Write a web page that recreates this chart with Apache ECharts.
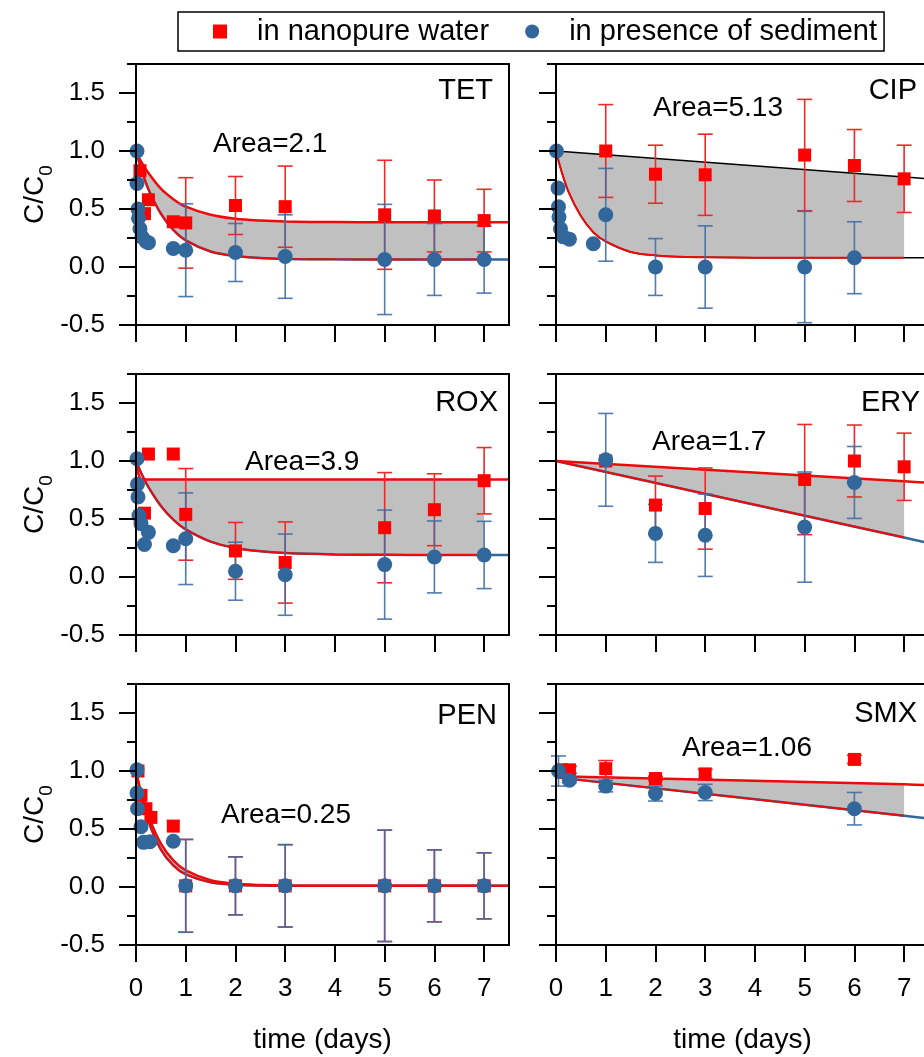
<!DOCTYPE html>
<html>
<head>
<meta charset="utf-8">
<script src="https://cdn.jsdelivr.net/npm/echarts@6/dist/echarts.min.js"></script>
<style>
  html, body { margin: 0; padding: 0; background: #fff; }
  #chart { width: 924px; height: 1057px; }
</style>
</head>
<body>
<div id="chart"></div>
<script>
// ---- shared axes / labels ----
const drugs = ['TET', 'CIP', 'ROX', 'ERY', 'PEN', 'SMX'];
const areaLabels = ['Area=2.1', 'Area=5.13', 'Area=3.9', 'Area=1.7', 'Area=0.25', 'Area=1.06'];
const tickDays = [0, 1, 2, 3, 4, 5, 6, 7];
const yTickValues = [-0.5, 0, 0.5, 1, 1.5];
const legendNames = ['in nanopure water', 'in presence of sediment'];

// time points (days) at which the fitted curves are read
const fitT = [0, 0.1, 0.25, 0.5, 0.75, 1, 1.5, 2, 2.5, 3, 4, 5, 6, 7, 7.5];
const lineT = [0, 7, 7.5];

// ---- TET ----
const tetWaterT = [0.08, 0.17, 0.25, 0.75, 1, 2, 3, 5, 6, 7];
const tetWaterC = [0.83, 0.46, 0.58, 0.39, 0.38, 0.53, 0.52, 0.45, 0.44, 0.40];
const tetWaterErr = [0, 0, 0, 0, 0.39, 0.25, 0.35, 0.47, 0.31, 0.27];
const tetSedT = [0.02, 0.02, 0.04, 0.05, 0.08, 0.12, 0.2, 0.25, 0.75, 1, 2, 3, 5, 6, 7];
const tetSedC = [1.0, 0.72, 0.50, 0.42, 0.33, 0.26, 0.22, 0.21, 0.16, 0.145, 0.125, 0.09, 0.065, 0.065, 0.065];
const tetSedErr = [0, 0, 0, 0, 0, 0, 0, 0, 0, 0.40, 0.25, 0.36, 0.475, 0.31, 0.29];
const tetFitWater = [1.0, 0.91, 0.81, 0.675, 0.585, 0.52, 0.45, 0.415, 0.40, 0.392, 0.387, 0.385, 0.385, 0.385, 0.385];
const tetFitSed = [1.0, 0.85, 0.67, 0.46, 0.32, 0.23, 0.134, 0.094, 0.077, 0.07, 0.066, 0.065, 0.065, 0.065, 0.065];

// ---- CIP ----
const cipWaterT = [1, 2, 3, 5, 6, 7];
const cipWaterC = [1.0, 0.80, 0.795, 0.965, 0.875, 0.76];
const cipWaterErr = [0.40, 0.25, 0.35, 0.48, 0.31, 0.29];
const cipSedT = [0.01, 0.04, 0.05, 0.06, 0.09, 0.15, 0.27, 0.75, 1, 2, 3, 5, 6];
const cipSedC = [1.0, 0.68, 0.52, 0.43, 0.33, 0.26, 0.24, 0.20, 0.45, 0.0, 0.0, 0.0, 0.08];
const cipSedErr = [0, 0, 0, 0, 0, 0, 0, 0, 0.40, 0.245, 0.355, 0.48, 0.31];
const cipFitWater = [1.0, 0.775, 0.76];
const cipFitSed = [1.0, 0.84, 0.65, 0.44, 0.30, 0.22, 0.13, 0.10, 0.088, 0.083, 0.08, 0.08, 0.08, 0.08, 0.08];

// ---- ROX ----
const roxWaterT = [0.17, 0.25, 0.75, 1, 2, 3, 5, 6, 7];
const roxWaterC = [0.55, 1.06, 1.06, 0.54, 0.225, 0.125, 0.425, 0.58, 0.83];
const roxWaterErr = [0, 0, 0, 0.395, 0.245, 0.35, 0.475, 0.31, 0.286];
const roxSedT = [0.02, 0.03, 0.04, 0.06, 0.1, 0.17, 0.25, 0.75, 1, 2, 3, 5, 6, 7];
const roxSedC = [1.02, 0.80, 0.69, 0.53, 0.46, 0.28, 0.385, 0.27, 0.33, 0.05, 0.02, 0.107, 0.173, 0.19];
const roxSedErr = [0, 0, 0, 0, 0, 0, 0, 0, 0.395, 0.25, 0.35, 0.47, 0.31, 0.29];
const roxFitWater = [1.0, 0.845, 0.84, 0.84, 0.84, 0.84, 0.84, 0.84, 0.84, 0.84, 0.84, 0.84, 0.84, 0.84, 0.84];
const roxFitSed = [1.0, 0.90, 0.775, 0.613, 0.495, 0.41, 0.305, 0.25, 0.221, 0.206, 0.194, 0.191, 0.19, 0.19, 0.19];

// ---- ERY ----
const eryWaterT = [1, 2, 3, 5, 6, 7];
const eryWaterC = [1.0, 0.62, 0.59, 0.84, 1.0, 0.95];
const eryWaterErr = [0, 0.25, 0.35, 0.475, 0.31, 0.29];
const erySedT = [1, 2, 3, 5, 6];
const erySedC = [1.01, 0.376, 0.36, 0.43, 0.815];
const erySedErr = [0.40, 0.25, 0.355, 0.475, 0.31];
const eryFitWater = [1.0, 0.825, 0.812];
const eryFitSed = [1.0, 0.34, 0.293];

// ---- PEN ----
const penWaterT = [0.04, 0.1, 0.2, 0.3, 0.75, 1, 2, 3, 5, 6, 7];
const penWaterC = [1.0, 0.79, 0.675, 0.60, 0.525, 0.01, 0.01, 0.01, 0.01, 0.01, 0.01];
const penWaterErr = [0, 0, 0, 0, 0, 0.40, 0.25, 0.355, 0.48, 0.31, 0.285];
const penSedT = [0.02, 0.02, 0.03, 0.1, 0.15, 0.28, 0.75, 1, 2, 3, 5, 6, 7];
const penSedC = [1.01, 0.81, 0.675, 0.52, 0.385, 0.39, 0.395, 0.01, 0.01, 0.01, 0.01, 0.01, 0.01];
const penSedErr = [0, 0, 0, 0, 0, 0, 0, 0.40, 0.25, 0.355, 0.48, 0.31, 0.285];
const penFitWater = [1.0, 0.82, 0.61, 0.374, 0.23, 0.144, 0.059, 0.028, 0.017, 0.012, 0.01, 0.01, 0.01, 0.01, 0.01];
const penFitSed = [1.0, 0.797, 0.567, 0.323, 0.186, 0.109, 0.041, 0.02, 0.013, 0.011, 0.01, 0.01, 0.01, 0.01, 0.01];

// ---- SMX ----
const smxWaterT = [0.11, 0.27, 1, 2, 3, 6];
const smxWaterC = [1.01, 1.01, 1.02, 0.935, 0.975, 1.10];
const smxWaterErr = [0.03, 0.03, 0.07, 0.02, 0.04, 0.035];
const smxSedT = [0.05, 0.27, 1, 2, 3, 6];
const smxSedC = [1.0, 0.92, 0.87, 0.806, 0.815, 0.675];
const smxSedErr = [0.13, 0.02, 0.05, 0.065, 0.07, 0.14];
const smxFitWater = [0.955, 0.885, 0.878];
const smxFitSed = [0.945, 0.615, 0.59];

// ---- panel assembly ----
const panels = [
  { water: [tetWaterT, tetWaterC, tetWaterErr], sed: [tetSedT, tetSedC, tetSedErr], fitW: [fitT, tetFitWater], fitS: [fitT, tetFitSed] },
  { water: [cipWaterT, cipWaterC, cipWaterErr], sed: [cipSedT, cipSedC, cipSedErr], fitW: [lineT, cipFitWater], fitS: [fitT, cipFitSed] },
  { water: [roxWaterT, roxWaterC, roxWaterErr], sed: [roxSedT, roxSedC, roxSedErr], fitW: [fitT, roxFitWater], fitS: [fitT, roxFitSed] },
  { water: [eryWaterT, eryWaterC, eryWaterErr], sed: [erySedT, erySedC, erySedErr], fitW: [lineT, eryFitWater], fitS: [lineT, eryFitSed] },
  { water: [penWaterT, penWaterC, penWaterErr], sed: [penSedT, penSedC, penSedErr], fitW: [fitT, penFitWater], fitS: [fitT, penFitSed] },
  { water: [smxWaterT, smxWaterC, smxWaterErr], sed: [smxSedT, smxSedC, smxSedErr], fitW: [lineT, smxFitWater], fitS: [lineT, smxFitSed] }
];

// ---- styling / layout ----
const FONT = "'Liberation Sans', Arial, Helvetica, sans-serif";
const RED = '#ff0000', RED_LINE = '#ee0a0a', RED_BAR = '#f02828';
const BLUE = '#32679c', BLUE_BAR = 'rgba(62,110,165,0.9)', GREY = '#c0c0c0';
const gridLeft = [136, 556], gridTop = [64, 374, 684], gridW = 373, gridH = 261;
const titleRight = [431, 7, 426, 4, 427, 7];
const titleTop = [76, 76, 388, 388, 701, 699];
const areaLeft = [213, 653, 245, 652, 221, 682];
const areaTop = [130, 94, 448, 428, 801, 734];

function pairs(ts, vs) { return ts.map((t, i) => [t, vs[i]]); }
function upTo7(ts, vs) { return pairs(ts, vs).filter(p => p[0] <= 7); }
function bars(ts, vs, es) {
  const out = [];
  ts.forEach((t, i) => { if (es[i] > 0) out.push([t, vs[i] - es[i], vs[i] + es[i]]); });
  return out;
}
function errorBarRenderer(color) {
  return function (params, api) {
    const x = api.value(0);
    const top = api.coord([x, api.value(2)]);
    const bot = api.coord([x, api.value(1)]);
    const hw = 7.5;
    const style = { stroke: color, lineWidth: 1.6 };
    return {
      type: 'group',
      children: [
        { type: 'line', shape: { x1: top[0], y1: top[1], x2: bot[0], y2: bot[1] }, style },
        { type: 'line', shape: { x1: top[0] - hw, y1: top[1], x2: top[0] + hw, y2: top[1] }, style },
        { type: 'line', shape: { x1: bot[0] - hw, y1: bot[1], x2: bot[0] + hw, y2: bot[1] }, style }
      ]
    };
  };
}
const yFmt = v => (Math.abs(v * 2 - Math.round(v * 2)) < 1e-6 && v <= 1.5) ? v.toFixed(1) : '';
const frameLine = { onZero: false, lineStyle: { color: '#000', width: 2 } };

const option = {
  animation: false,
  backgroundColor: '#fff',
  textStyle: { fontFamily: FONT, color: '#000' },
  legend: {
    left: 178, top: 12,
    orient: 'horizontal',
    padding: [5, 7, 5, 35],
    itemWidth: 14, itemHeight: 14, itemGap: 36,
    borderColor: '#000', borderWidth: 1.5,
    selectedMode: false,
    textStyle: { fontSize: 29, lineHeight: 29, color: '#000', fontFamily: FONT, padding: [0, 0, 0, 25] },
    data: [{ name: legendNames[0], icon: 'rect' }, { name: legendNames[1], icon: 'circle' }]
  },
  title: [], grid: [], xAxis: [], yAxis: [], series: []
};

panels.forEach((p, i) => {
  const col = i % 2, row = Math.floor(i / 2);
  const isCip = drugs[i] === 'CIP';
  const upperColor = isCip ? '#000' : RED_LINE;
  const lowerColor = isCip ? '#000' : BLUE;

  option.grid.push({
    left: gridLeft[col], top: gridTop[row], width: gridW, height: gridH,
    show: false, containLabel: false, outerBoundsMode: 'none'
  });

  // bottom time axis
  option.xAxis.push({
    type: 'value', gridIndex: i, position: 'bottom', min: 0, max: 7.5, interval: 1, z: 10,
    axisLine: frameLine,
    axisTick: { length: 17, customValues: tickDays, lineStyle: { color: '#000', width: 2 } },
    axisLabel: { show: row === 2, customValues: tickDays, margin: 31, fontSize: 26, color: '#000',
      formatter: v => (v <= 7 ? String(v) : '') },
    splitLine: { show: false },
    name: row === 2 ? 'time (days)' : '', nameLocation: 'middle', nameGap: 81,
    nameTextStyle: { fontSize: 28, color: '#000' }
  });
  // top frame edge
  option.xAxis.push({
    type: 'value', gridIndex: i, position: 'top', min: 0, max: 7.5, z: 10,
    axisLine: frameLine, axisTick: { show: false }, axisLabel: { show: false }, splitLine: { show: false }
  });

  // concentration axis with short ticks every 0.25
  option.yAxis.push({
    type: 'value', gridIndex: i, position: 'left', min: -0.5, max: 1.75, interval: 0.25, z: 10,
    axisLine: frameLine,
    axisTick: { length: 9, lineStyle: { color: '#000', width: 2 } },
    axisLabel: { show: col === 0, customValues: yTickValues, margin: 31, fontSize: 26, color: '#000', formatter: yFmt },
    splitLine: { show: false },
    name: col === 0 ? '{a|C/C}{b|0}' : '', nameLocation: 'middle', nameGap: 87,
    nameTextStyle: {
      color: '#000',
      rich: {
        a: { fontSize: 28, lineHeight: 28, verticalAlign: 'top', fontFamily: FONT, color: '#000' },
        b: { fontSize: 19, lineHeight: 19, verticalAlign: 'top', padding: [16, 0, 0, 0], fontFamily: FONT, color: '#000' }
      }
    }
  });
  // long ticks at the labelled values
  option.yAxis.push({
    type: 'value', gridIndex: i, position: 'left', min: -0.5, max: 1.75, interval: 0.5, z: 10,
    axisLine: { show: false },
    axisTick: { length: 17, customValues: yTickValues, lineStyle: { color: '#000', width: 2 } },
    axisLabel: { show: false },
    splitLine: { show: false }
  });
  // right frame edge
  option.yAxis.push({
    type: 'value', gridIndex: i, position: 'right', min: -0.5, max: 1.75, z: 10,
    axisLine: frameLine, axisTick: { show: false }, axisLabel: { show: false }, splitLine: { show: false }
  });

  const ax = { xAxisIndex: 2 * i, yAxisIndex: 3 * i };

  // shaded region between the two fits: grey under the upper fit up to day 7,
  // then white under the lower fit
  option.series.push(Object.assign({
    type: 'line', data: upTo7(p.fitW[0], p.fitW[1]), smooth: 0.3, symbol: 'none', silent: true, z: 1,
    lineStyle: { opacity: 0 }, areaStyle: { color: GREY, opacity: 1, origin: 'start' }
  }, ax));
  option.series.push(Object.assign({
    type: 'line', data: pairs(p.fitS[0], p.fitS[1]), smooth: 0.3, symbol: 'none', silent: true, z: 2,
    lineStyle: { opacity: 0 }, areaStyle: { color: '#ffffff', opacity: 1, origin: 'start' }
  }, ax));

  // fitted curves
  option.series.push(Object.assign({
    type: 'line', data: pairs(p.fitS[0], p.fitS[1]), smooth: 0.3, symbol: 'none', silent: true, z: 3,
    lineStyle: { color: lowerColor, width: isCip ? 1.5 : 2.5 }
  }, ax));
  option.series.push(Object.assign({
    type: 'line', data: upTo7(p.fitS[0], p.fitS[1]), smooth: 0.3, symbol: 'none', silent: true, z: 3,
    lineStyle: { color: RED_LINE, width: 2 }
  }, ax));
  option.series.push(Object.assign({
    type: 'line', data: pairs(p.fitW[0], p.fitW[1]), smooth: 0.3, symbol: 'none', silent: true, z: 3,
    lineStyle: { color: upperColor, width: isCip ? 1.5 : 2.5 }
  }, ax));

  // error bars
  option.series.push(Object.assign({
    type: 'custom', data: bars(p.water[0], p.water[1], p.water[2]), renderItem: errorBarRenderer(RED_BAR),
    encode: { x: 0, y: [1, 2] }, silent: true, z: 4
  }, ax));
  option.series.push(Object.assign({
    type: 'custom', data: bars(p.sed[0], p.sed[1], p.sed[2]), renderItem: errorBarRenderer(BLUE_BAR),
    encode: { x: 0, y: [1, 2] }, silent: true, z: 4
  }, ax));

  // measured points
  option.series.push(Object.assign({
    type: 'scatter', name: legendNames[0], data: pairs(p.water[0], p.water[1]),
    symbol: 'rect', symbolSize: 13, itemStyle: { color: RED, opacity: 1 }, z: 5, clip: false
  }, ax));
  option.series.push(Object.assign({
    type: 'scatter', name: legendNames[1], data: pairs(p.sed[0], p.sed[1]),
    symbol: 'circle', symbolSize: 15, itemStyle: { color: BLUE, opacity: 1 }, z: 6, clip: false
  }, ax));

  // panel labels
  option.title.push({
    text: drugs[i], right: titleRight[i], top: titleTop[i], padding: 0,
    textStyle: { fontSize: 29, fontWeight: 'normal', color: '#000', fontFamily: FONT }
  });
  option.title.push({
    text: areaLabels[i], left: areaLeft[i], top: areaTop[i], padding: 0,
    textStyle: { fontSize: 28, fontWeight: 'normal', color: '#000', fontFamily: FONT }
  });
});

const chart = echarts.init(document.getElementById('chart'), null, { renderer: 'canvas' });
chart.setOption(option);
</script>
</body>
</html>
